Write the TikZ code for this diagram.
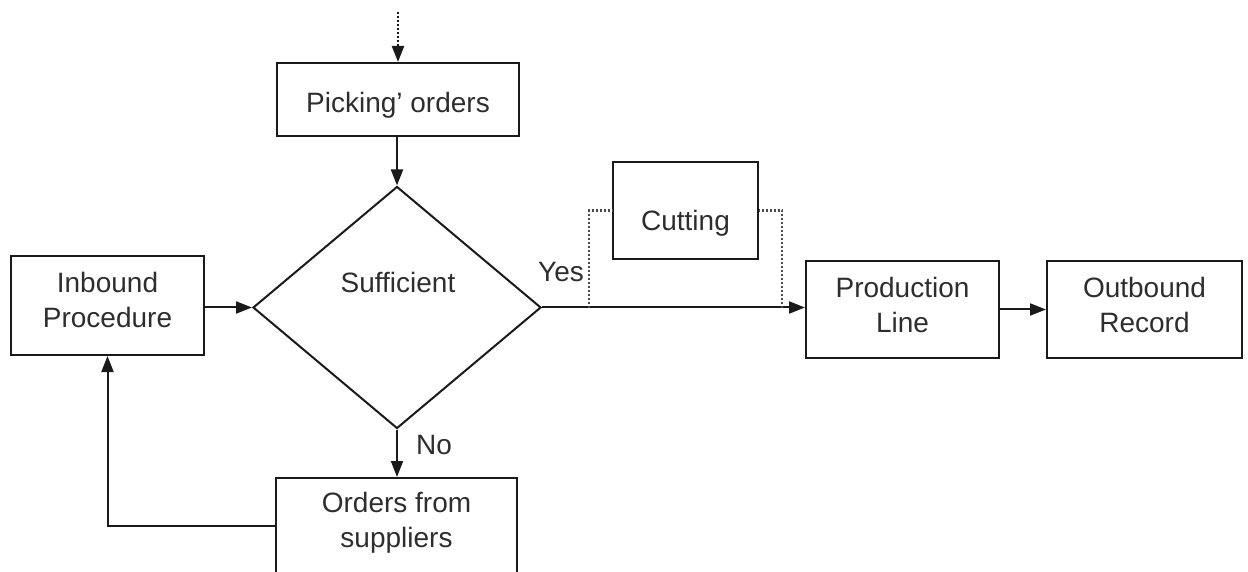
\documentclass[tikz,border=0pt]{standalone}
\usepackage{fontspec}
\setmainfont{Liberation Sans}
\usetikzlibrary{arrows.meta,shapes.geometric}
\definecolor{ink}{HTML}{1A1A1A}
\definecolor{txt}{HTML}{2E2E2E}
\definecolor{dots}{HTML}{4A4A4A}
\tikzset{
  frame/.style={draw=ink, line width=1pt, rectangle, inner sep=0pt},
  decision/.style={draw=ink, line width=1pt, diamond, inner sep=0pt},
  lbl/.style={text=txt, font=\fontsize{14}{17.5}\selectfont, inner sep=0pt, align=center},
  tip/.style={-{Triangle[length=8pt,width=6pt]}},
  flow/.style={draw=ink, line width=1pt, tip},
  dotline/.style={draw=dots, line width=1.1pt, dash pattern=on 1pt off 1pt},
}
\begin{document}
\begin{tikzpicture}[x=0.5pt, y=-0.5pt]
\useasboundingbox (0,0) rectangle (1248,572);
\clip (0,0) rectangle (1248,572);

% box outlines
\node[frame, minimum width=121pt, minimum height=36.5pt] (pick) at (398,99.5) {};
\node[decision, minimum width=144pt, minimum height=121pt] (dia) at (397,307.5) {};
\node[frame, minimum width=96.5pt, minimum height=49.5pt] (inb) at (107.5,305.5) {};
\node[frame, minimum width=120.5pt, minimum height=48pt] (ord) at (396.5,526) {};
\node[frame, minimum width=72.5pt, minimum height=48.5pt] (cut) at (685.5,210.5) {};
\node[frame, minimum width=96.5pt, minimum height=48.5pt] (prod) at (902.5,309.5) {};
\node[frame, minimum width=97.5pt, minimum height=48.5pt] (outb) at (1144.5,309.5) {};

% box texts
\node[lbl] (pickT) at (398,105) {Picking' orders};
\node[lbl] (suffT) at (398,282) {Sufficient};
\node[lbl] (inbT) at (107.5,300) {Inbound\\Procedure};
\node[lbl] (ordT) at (396.5,523) {Orders from\\suppliers};
\node[lbl] (cutT) at (685.5,223) {Cutting};
\node[lbl] (prodT) at (902.5,304.5) {Production\\Line};
\node[lbl] (outbT) at (1144.5,304.5) {Outbound\\Record};

% branch labels
\node[lbl] (yes) at (561,272) {Yes};
\node[lbl] (no) at (434,445) {No};

% incoming dotted arrow
\coordinate (src) at (398,12);
\draw[dotline, draw=ink, tip] (src) -- (src |- pick.north);

% main flow
\draw[flow] (pick.south -| dia.north) -- (dia.north);
\draw[flow] (inb.east |- dia.west) -- (dia.west);
\draw[flow] (dia.east) -- (dia.east -| prod.west);
\draw[flow] (prod.east) -- (outb.west);
\draw[flow] (dia.south) -- (dia.south |- ord.north);
\draw[flow] (ord.west) -| (inb.south);

% optional cutting step, bracketed over the main line
\coordinate (cl) at (589,308);
\coordinate (cr) at (782,308);
\draw[dotline] (cl) |- (cut.west);
\draw[dotline] (cr) |- (cut.east);
\end{tikzpicture}
\end{document}
